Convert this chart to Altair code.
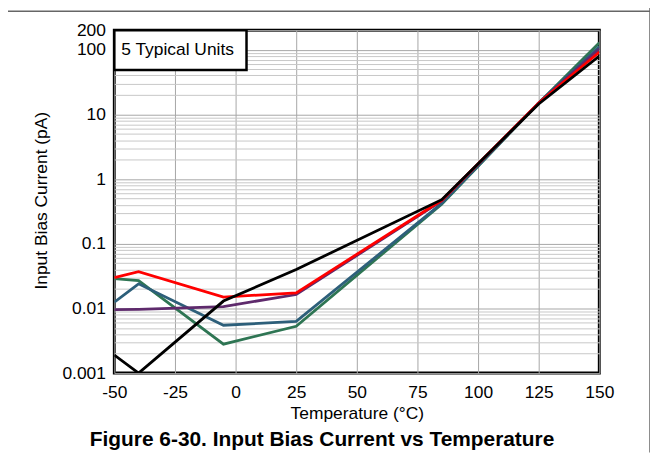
import altair as alt
import pandas as pd

# ---- data ----
temps = [-50, -40, -5, 25, 85, 125, 150]
unit_black = [0.0019, 0.001, 0.013, 0.040, 0.48, 14.5, 80]
unit_red = [0.030, 0.037, 0.015, 0.0174, 0.47, 15, 92]
unit_purple = [0.0096, 0.0097, 0.0107, 0.0164, 0.46, 15, 103]
unit_blue = [0.0125, 0.024, 0.0055, 0.0063, 0.42, 15, 112]
unit_green = [0.029, 0.027, 0.0028, 0.0053, 0.41, 15, 128]

series = [
    ("Unit 5", unit_green, "#2E7553"),
    ("Unit 4", unit_blue, "#2D5F7A"),
    ("Unit 3", unit_purple, "#5E2A6C"),
    ("Unit 2", unit_red, "#FF0000"),
    ("Unit 1", unit_black, "#000000"),
]

x_ticks = [-50, -25, 0, 25, 50, 75, 100, 125, 150]
y_major = [0.001, 0.01, 0.1, 1, 10, 100, 200]
y_grid = []
for k in range(-3, 3):
    for m in range(1, 10):
        v = round(m * 10 ** k, 10)
        if v <= 200:
            y_grid.append(v)
if 200 not in y_grid:
    y_grid.append(200)

caption = "Figure 6-30. Input Bias Current vs Temperature"
legend_label = "5 Typical Units"

FONT = "Liberation Sans"
FS = 17.5
W, H = 488, 345

x_scale = alt.Scale(domain=[-50, 150], nice=False, zero=False)
y_scale = alt.Scale(type="log", domain=[0.001, 200], nice=False)

decade_test = "abs(log(datum.value)/LN10 - round(log(datum.value)/LN10)) < 1e-6"

x_axis = alt.Axis(
    values=x_ticks, title="Temperature (°C)", grid=True, gridColor="#a6a6a6",
    gridWidth=1, ticks=False, domain=False, labelFontSize=FS, labelFont=FONT,
    labelColor="#000", labelPadding=11, labelExpr="'' + datum.value",
    titleFont=FONT, titleFontSize=FS,
    titleFontWeight="normal", titleColor="#000", titleBaseline="alphabetic",
    titleY=46, labelFlush=False,
)
y_axis = alt.Axis(
    values=y_grid, title="Input Bias Current (pA)", grid=True,
    gridColor={"condition": {"test": decade_test, "value": "#a6a6a6"}, "value": "#c8c8c8"},
    gridWidth=1, ticks=False, domain=False, labelFontSize=FS, labelFont=FONT,
    labelColor="#000", labelPadding=9, labelOverlap=False, labelFlush=False,
    labelExpr="(" + decade_test + " || datum.value == 200) ? '' + datum.value : ''",
    titleFont=FONT, titleFontSize=FS, titleFontWeight="normal", titleColor="#000",
    titleBaseline="alphabetic", titleX=-68, titleY=171,
)

layers = []
for name, vals, color in series:
    df = pd.DataFrame({"T": temps, "I": vals, "unit": name})
    ch = alt.Chart(df).mark_line(color=color, strokeWidth=2.8, clip=True).encode(
        x=alt.X("T:Q", scale=x_scale, axis=x_axis),
        y=alt.Y("I:Q", scale=y_scale, axis=y_axis),
    )
    layers.append(ch)

one = pd.DataFrame({"a": [0]})
legend_box = alt.Chart(one).mark_rect(fill="white", stroke="black", strokeWidth=2.5).encode(
    x=alt.value(0), x2=alt.value(133), y=alt.value(0), y2=alt.value(40)
)
legend_text = alt.Chart(pd.DataFrame({"t": [legend_label]})).mark_text(
    font=FONT, fontSize=FS, align="left", baseline="middle", color="#000"
).encode(text="t:N", x=alt.value(7), y=alt.value(20))

caption_text = alt.Chart(pd.DataFrame({"t": [caption]})).mark_text(
    font=FONT, fontSize=21, fontWeight="bold", align="center",
    baseline="alphabetic", color="#000"
).encode(text="t:N", x=alt.value(209), y=alt.value(418))

frame_h = alt.Chart(one).mark_rule(color="#666", strokeWidth=1.5).encode(
    x=alt.value(-107), x2=alt.value(540), y=alt.value(-19)
)
frame_v = alt.Chart(one).mark_rule(color="#666", strokeWidth=1.5).encode(
    x=alt.value(539), y=alt.value(-29), y2=alt.value(425)
)

chart = alt.layer(
    *layers, legend_box, legend_text, caption_text, frame_h, frame_v
).properties(
    width=W, height=H,
    background="white",
    autosize=alt.AutoSizeParams(type="none"),
    padding={"left": 107, "top": 21, "right": 51, "bottom": 80},
).configure_view(stroke="black", strokeWidth=3)

chart.save("out.html", embed_options={"renderer": "svg", "actions": False})
